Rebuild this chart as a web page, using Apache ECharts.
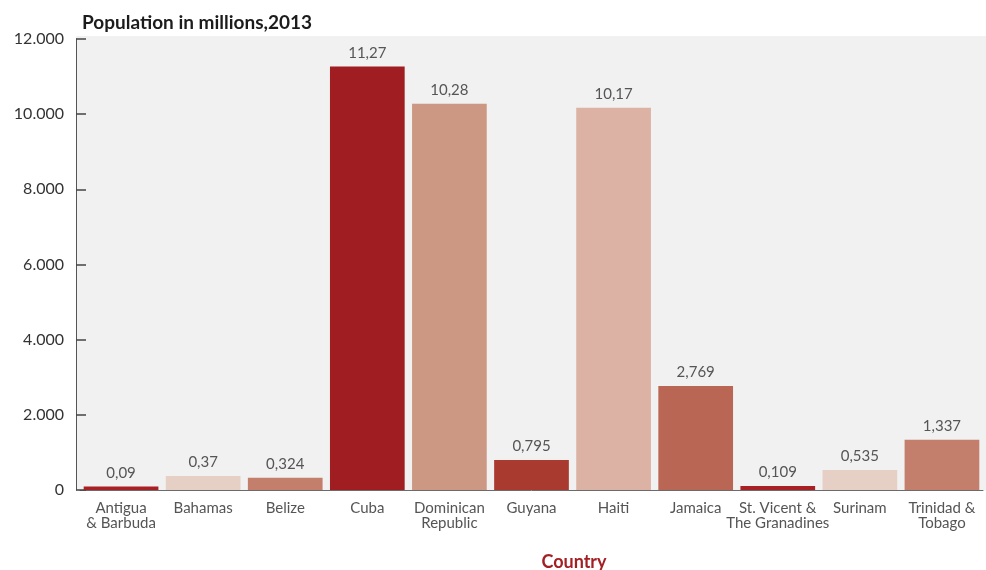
<!DOCTYPE html>
<html>
<head>
<meta charset="utf-8">
<script src="https://cdn.jsdelivr.net/npm/echarts@6/dist/echarts.min.js"></script>
<style>
  html, body { margin: 0; padding: 0; background: #fff; }
  #chart { width: 986px; height: 570px; }
</style>
</head>
<body>
<div id="chart"></div>
<script>
// Population in thousands, 2013
const countries = [
  'Antigua\n& Barbuda', 'Bahamas', 'Belize', 'Cuba', 'Dominican\nRepublic',
  'Guyana', 'Haiti', 'Jamaica', 'St. Vicent &\nThe Granadines', 'Surinam', 'Trinidad &\nTobago'
];
const population = [90, 370, 324, 11270, 10280, 795, 10170, 2769, 109, 535, 1337];
const barColors = [
  '#a81f24', '#e6cfc4', '#c47f6c', '#a01d21', '#cc9884',
  '#a83a2f', '#dbb2a4', '#b96754', '#a81f24', '#e6cfc4', '#c47e6c'
];
const yTicks = { min: 0, max: 12000, interval: 2000 };

const FONT = 'Lato, "Open Sans", sans-serif';

// thousands with a dot separator: 12000 -> "12.000"
const fmtTick = v => String(v).replace(/\B(?=(\d{3})+(?!\d))/g, '.');
// value in millions with a decimal comma: 11270 -> "11,27"
const fmtMillions = v => String(v / 1000).replace('.', ',');

const chart = echarts.init(document.getElementById('chart'), null, { renderer: 'canvas' });

chart.setOption({
  backgroundColor: '#ffffff',
  animation: false,
  title: [{
    text: 'Population in millions,2013',
    left: 77,
    top: 8,
    textStyle: { fontFamily: FONT, fontSize: 19, fontWeight: 'bold', color: '#1c1c1c' }
  }, {
    // x axis caption
    text: 'Country',
    left: 569,
    top: 548,
    textAlign: 'center',
    textStyle: { fontFamily: FONT, fontSize: 18, fontWeight: 'bold', color: '#a31f24' }
  }],
  graphic: [{
    // plot panel, spanning from the y axis line to the right edge
    type: 'rect',
    z: -10,
    silent: true,
    shape: { x: 76, y: 36, width: 910, height: 454.5 },
    style: { fill: '#f0f1f0' }
  }],
  grid: { left: 80, right: 3, top: 39, bottom: 80 },
  xAxis: {
    type: 'category',
    data: countries,
    axisLine: { show: true, lineStyle: { color: '#6b6b6b', width: 1 } },
    axisTick: { show: false },
    axisLabel: {
      interval: 0,
      margin: 11,
      fontFamily: FONT,
      fontSize: 15,
      lineHeight: 15,
      color: '#555555'
    }
  },
  yAxis: {
    type: 'value',
    min: yTicks.min,
    max: yTicks.max,
    interval: yTicks.interval,
    offset: 4,
    axisLine: { show: true, lineStyle: { color: '#555555', width: 1 } },
    axisTick: { show: true, inside: true, length: 10, lineStyle: { color: '#444444', width: 1.5 } },
    splitLine: { show: false },
    axisLabel: {
      margin: 12,
      fontFamily: FONT,
      fontSize: 16,
      color: '#333333',
      formatter: fmtTick
    }
  },
  series: [{
    type: 'bar',
    barCategoryGap: '9%',
    data: population.map((v, i) => ({ value: v, itemStyle: { color: barColors[i] } })),
    label: {
      show: true,
      position: 'top',
      distance: 6,
      fontFamily: FONT,
      fontSize: 15,
      color: '#555555',
      formatter: p => fmtMillions(p.value)
    }
  }]
});
</script>
</body>
</html>
